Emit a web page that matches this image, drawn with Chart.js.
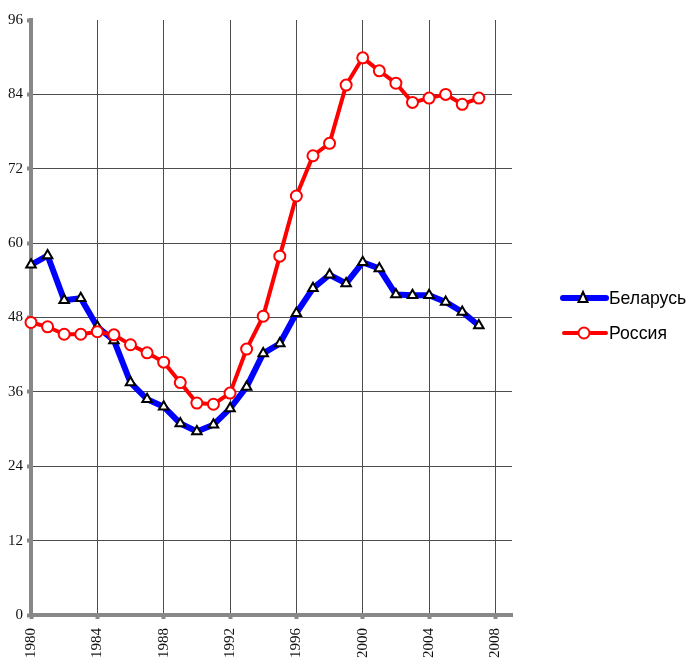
<!DOCTYPE html>
<html>
<head>
<meta charset="utf-8">
<script src="https://cdn.jsdelivr.net/npm/chart.js@4"></script>
<style>
html,body{margin:0;padding:0;background:#fff;}
#wrap{width:691px;height:661px;}
</style>
</head>
<body>
<div id="wrap"><canvas id="c" width="691" height="661"></canvas></div>
<script>
const years = [1980,1981,1982,1983,1984,1985,1986,1987,1988,1989,1990,1991,1992,1993,1994,1995,1996,1997,1998,1999,2000,2001,2002,2003,2004,2005,2006,2007];
const belarus = [56.5,58.0,50.8,51.1,46.5,44.3,37.5,34.8,33.6,30.9,29.6,30.7,33.3,36.8,42.2,43.8,48.7,52.7,54.9,53.5,56.9,55.9,51.7,51.6,51.6,50.5,48.9,46.7];
const russia = [47.2,46.5,45.3,45.3,45.7,45.2,43.6,42.3,40.8,37.5,34.2,34.0,35.8,42.9,48.2,57.9,67.6,74.1,76.1,85.5,89.9,87.8,85.8,82.7,83.4,84.0,82.4,83.4];
const xTicks = [1980,1984,1988,1992,1996,2000,2004,2008];
const yTicks = [0,12,24,36,48,60,72,84,96];
const seriesNames = ['Беларусь','Россия'];

const toPts = arr => arr.map((v,i)=>({x:years[i], y:v}));

const legendPlugin = {
  id:'customLegend',
  afterDraw(chart){
    const ctx = chart.ctx;
    ctx.save();
    const items = [
      {y:298, color:'#0000ff', lw:6, style:'triangle', x1:563, x2:606, mx:583},
      {y:333, color:'#ff0000', lw:4, style:'circle', x1:564, x2:606, mx:584}
    ];
    items.forEach((it,i)=>{
      ctx.lineCap='round';
      ctx.strokeStyle=it.color; ctx.lineWidth=it.lw;
      ctx.beginPath(); ctx.moveTo(it.x1,it.y); ctx.lineTo(it.x2,it.y); ctx.stroke();
      if(it.style==='triangle'){
        ctx.fillStyle='#fff'; ctx.strokeStyle='#000'; ctx.lineWidth=2;
        ctx.beginPath();
        ctx.moveTo(it.mx,it.y-6); ctx.lineTo(it.mx+4.5,it.y+4); ctx.lineTo(it.mx-4.5,it.y+4); ctx.closePath();
        ctx.fill(); ctx.stroke();
      } else {
        ctx.fillStyle='#fff'; ctx.strokeStyle=it.color; ctx.lineWidth=2;
        ctx.beginPath(); ctx.arc(it.mx,it.y,5.5,0,Math.PI*2); ctx.fill(); ctx.stroke();
      }
      ctx.fillStyle='#000';
      ctx.font='19px "Liberation Sans Narrow", "Arial Narrow", "Liberation Sans", sans-serif';
      ctx.textBaseline='middle'; ctx.textAlign='left';
      ctx.save();
      ctx.translate(609, it.y+1);
      ctx.scale(0.93,1);
      ctx.fillText(seriesNames[i], 0, 0);
      ctx.restore();
    });
    ctx.restore();
  }
};

new Chart(document.getElementById('c'),{
  type:'line',
  data:{
    datasets:[
      {label:seriesNames[1], data:toPts(russia), order:0, borderColor:'#ff0000', borderWidth:4,
       pointStyle:'circle', pointRadius:5.5, pointBorderWidth:2, pointBorderColor:'#ff0000', pointBackgroundColor:'#ffffff', tension:0, clip:false},
      {label:seriesNames[0], data:toPts(belarus), order:1, borderColor:'#0000ff', borderWidth:6,
       pointStyle:'triangle', pointRadius:5.5, pointBorderWidth:2, pointBorderColor:'#000000', pointBackgroundColor:'#ffffff', tension:0, clip:false}
    ]
  },
  options:{
    responsive:false,
    animation:false,
    events:[],
    layout:{padding:{top:20,right:179,bottom:0,left:0}},
    plugins:{legend:{display:false},tooltip:{enabled:false}},
    scales:{
      x:{
        type:'linear', min:1980, max:2009,
        afterBuildTicks(s){ s.ticks = xTicks.map(v=>({value:v})); },
        afterFit(s){ s.height = 46; },
        border:{color:'#888888', width:4},
        grid:{color:'#4d4d4d', lineWidth:1, drawTicks:true, tickLength:4, tickColor:'#888888', tickWidth:4},
        ticks:{minRotation:90, maxRotation:90, autoSkip:false, padding:9, color:'#111',
               font:{family:'"Liberation Serif", "Times New Roman", serif', size:15},
               callback:v=>String(v)}
      },
      y:{
        min:0, max:96,
        afterBuildTicks(s){ s.ticks = yTicks.map(v=>({value:v})); },
        afterFit(s){ s.width = 31; },
        border:{color:'#888888', width:4},
        grid:{color:ctx=> (ctx.tick && ctx.tick.value===96) ? 'rgba(0,0,0,0)' : '#4d4d4d', lineWidth:1, drawTicks:true, tickLength:4, tickColor:'#888888', tickWidth:4},
        ticks:{padding:4, color:'#111', autoSkip:false,
               font:{family:'"Liberation Serif", "Times New Roman", serif', size:15},
               callback:v=>String(v)}
      }
    }
  },
  plugins:[legendPlugin]
});
</script>
</body>
</html>
